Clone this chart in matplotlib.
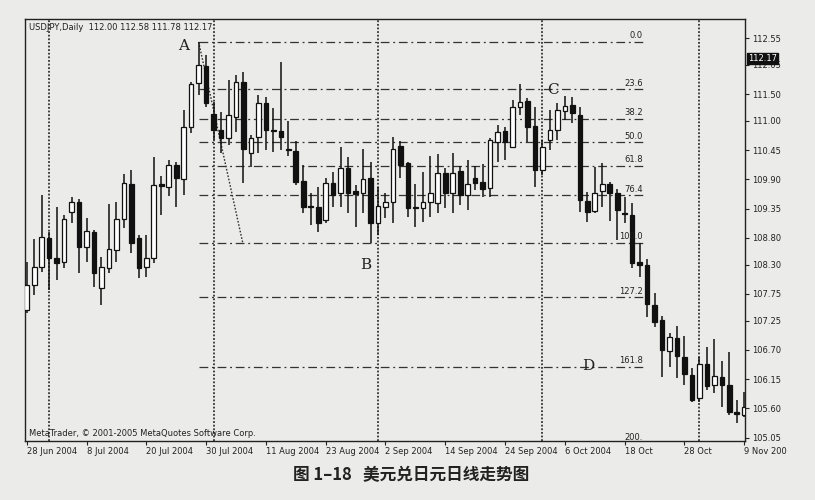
import numpy as np
import matplotlib
matplotlib.use("Agg")
import matplotlib.pyplot as plt

# ---------------------------------------------------------------------------
# Data: USDJPY daily candles, 28 Jun 2004 - 9 Nov 2004
# ---------------------------------------------------------------------------
opens = [107.45, 107.92, 108.26, 108.80, 108.43, 108.35, 109.29, 109.48, 108.63, 108.91,
         107.86, 108.24, 108.58, 109.16, 109.81, 108.80, 108.26, 108.43, 109.81, 109.76,
         110.17, 109.91, 110.88, 111.71, 112.03, 111.13, 110.83, 110.68, 111.07, 111.73,
         110.39, 110.69, 111.33, 110.83, 110.81, 110.47, 110.43, 109.87, 109.40, 109.38,
         109.14, 109.83, 109.64, 110.11, 109.68, 109.64, 109.93, 109.08, 109.38, 109.48,
         110.52, 110.21, 109.38, 109.36, 109.48, 109.46, 110.02, 109.64, 110.06, 109.61,
         109.93, 109.85, 109.74, 110.60, 110.81, 110.51, 111.26, 111.37, 110.90, 110.08,
         110.64, 110.83, 111.18, 111.29, 111.11, 109.49, 109.31, 109.68, 109.81, 109.64,
         109.27, 109.23, 108.35, 108.29, 107.54, 107.26, 106.68, 106.92, 106.57, 106.23,
         105.80, 106.44, 106.04, 106.19, 106.04, 105.52, 105.48]
highs = [108.35, 108.78, 109.61, 108.91, 109.38, 109.23, 109.57, 109.53, 109.18, 108.95,
         108.44, 109.44, 109.48, 110.00, 110.08, 108.86, 108.86, 110.32, 109.96, 110.26,
         110.23, 111.20, 111.73, 112.48, 112.23, 111.35, 111.16, 111.76, 111.86, 111.91,
         110.73, 111.48, 111.44, 111.24, 112.10, 110.99, 110.62, 110.17, 109.64, 109.76,
         109.93, 110.04, 110.51, 110.32, 109.79, 110.47, 110.23, 109.76, 109.64, 110.69,
         110.62, 110.23, 109.81, 110.04, 110.34, 110.37, 110.11, 110.39, 110.15, 110.26,
         110.15, 110.19, 110.68, 110.92, 110.88, 111.39, 111.69, 111.43, 111.26, 110.64,
         111.20, 111.33, 111.46, 111.44, 111.26, 109.66, 110.13, 110.21, 109.85, 109.72,
         109.57, 109.46, 108.71, 108.41, 107.77, 107.34, 107.02, 107.15, 106.96, 106.36,
         106.57, 106.76, 106.91, 106.49, 106.66, 105.76, 105.91]
lows = [107.39, 107.73, 108.16, 107.83, 108.01, 108.24, 109.08, 108.14, 108.35, 107.88,
        107.54, 108.14, 108.35, 108.99, 108.52, 108.05, 108.07, 108.33, 109.23, 109.59,
        109.38, 109.61, 110.77, 111.48, 111.26, 110.64, 110.39, 110.54, 110.79, 109.83,
        110.13, 110.39, 110.45, 110.41, 110.45, 110.34, 109.79, 109.27, 109.04, 108.91,
        109.08, 109.38, 109.38, 109.27, 109.01, 109.27, 108.71, 108.86, 109.18, 109.08,
        109.93, 109.19, 109.01, 109.10, 109.19, 109.27, 109.36, 109.27, 109.42, 109.33,
        109.70, 109.57, 109.57, 110.23, 110.26, 110.49, 111.11, 110.60, 109.76, 109.98,
        110.45, 110.64, 111.01, 110.96, 109.29, 109.10, 109.27, 109.38, 109.12, 108.76,
        109.08, 108.24, 108.07, 107.32, 107.13, 106.19, 106.38, 106.18, 106.04, 105.72,
        105.72, 105.95, 105.89, 105.63, 105.48, 105.33, 105.44]
closes = [107.92, 108.26, 108.82, 108.43, 108.33, 109.16, 109.48, 108.63, 108.93, 108.14,
          108.26, 108.59, 109.16, 109.83, 108.71, 108.24, 108.43, 109.79, 109.78, 110.17,
          109.93, 110.88, 111.69, 112.04, 111.33, 110.83, 110.68, 111.11, 111.73, 110.47,
          110.68, 111.33, 110.83, 110.81, 110.69, 110.45, 109.85, 109.38, 109.38, 109.08,
          109.83, 109.61, 110.11, 109.64, 109.63, 109.91, 109.08, 109.40, 109.48, 110.47,
          110.17, 109.36, 109.36, 109.48, 109.64, 110.02, 109.64, 110.02, 109.61, 109.81,
          109.83, 109.72, 110.64, 110.79, 110.60, 111.26, 111.35, 110.88, 110.08, 110.51,
          110.83, 111.20, 111.28, 111.14, 109.51, 109.29, 109.64, 109.81, 109.64, 109.33,
          109.25, 108.33, 108.29, 107.56, 107.22, 106.70, 106.94, 106.59, 106.25, 105.76,
          106.44, 106.03, 106.21, 106.04, 105.54, 105.50, 105.63]

date_ticks = [0, 8, 16, 24, 32, 40, 48, 56, 64, 72, 80, 88, 96]
date_labels = ["28 Jun 2004", "8 Jul 2004", "20 Jul 2004", "30 Jul 2004", "11 Aug 2004",
               "23 Aug 2004", "2 Sep 2004", "14 Sep 2004", "24 Sep 2004", "6 Oct 2004",
               "18 Oct", "28 Oct", "9 Nov 200"]
month_starts = [3, 25, 47, 69, 90]

price_ticks = [112.55, 112.05, 111.50, 111.00, 110.45, 109.90, 109.35, 108.80,
               108.30, 107.75, 107.25, 106.70, 106.15, 105.60, 105.05]

fib_high = 112.48   # point A
fib_low = 108.71    # point B
fib_levels = [0.0, 23.6, 38.2, 50.0, 61.8, 76.4, 100.0, 127.2, 161.8, 200.0]
fib_labels = ["0.0", "23.6", "38.2", "50.0", "61.8", "76.4", "100.0", "127.2", "161.8", "200."]

points = {"A": (21.0, 112.40), "B": (45.3, 108.29), "C": (70.4, 111.57), "D": (75.1, 106.40)}

# ---------------------------------------------------------------------------
# Figure
# ---------------------------------------------------------------------------
BG = "#ebebe9"
plt.rcParams["font.family"] = ["DejaVu Sans"]
fig = plt.figure(figsize=(8.15, 5.0), dpi=100, facecolor=BG)
ax = fig.add_axes([25 / 815, 1 - 441 / 500, 720 / 815, 422 / 500], facecolor=BG)

n = len(opens)
x = np.arange(n)
o = np.array(opens); h = np.array(highs); l = np.array(lows); c = np.array(closes)
up = c >= o

# fib levels (dash-dot) and A->B trend line
x0, x1 = 23, 82.4
for lvl, lab in zip(fib_levels, fib_labels):
    p = fib_high - (fib_high - fib_low) * lvl / 100
    ax.plot([x0, x1], [p, p], color="#333333", lw=0.9,
            linestyle=(0, (7, 3, 1.5, 3)), zorder=1)
    ax.text(x1, p + 0.03, lab, ha="right", va="bottom", fontsize=6, color="#222222", zorder=4)
ax.plot([23, 28.9], [fib_high, fib_low], color="#333333", lw=1.0,
        linestyle=(0, (1.2, 1.2)), zorder=1)

# month separators
for m in month_starts:
    ax.axvline(m, color="#333333", lw=1.3, linestyle=(0, (1, 1)), zorder=1)

# candles
ax.vlines(x, l, h, color="#111111", lw=1.1, zorder=2)
body_lo = np.minimum(o, c)
body_h = np.maximum(np.abs(c - o), 0.025)
ax.bar(x[up], body_h[up], bottom=body_lo[up], width=0.62, color="white",
       edgecolor="#111111", linewidth=0.9, zorder=3)
ax.bar(x[~up], body_h[~up], bottom=body_lo[~up], width=0.62, color="#111111",
       edgecolor="#111111", linewidth=0.9, zorder=3)

for name, (px, py) in points.items():
    ax.text(px, py, name, fontsize=11, family="serif", color="#222222",
            ha="center", va="center", zorder=5)

ax.text(0.005, 0.99, "USDJPY,Daily  112.00 112.58 111.78 112.17", transform=ax.transAxes,
        ha="left", va="top", fontsize=6, color="#222222")
ax.text(0.005, 0.008, "MetaTrader, \u00a9 2001-2005 MetaQuotes Software Corp.",
        transform=ax.transAxes, ha="left", va="bottom", fontsize=6, color="#222222")

ax.set_xlim(-0.23, 96.1)
ax.set_ylim(104.99, 112.91)

ax.yaxis.tick_right()
ax.set_yticks(price_ticks)
ax.set_yticklabels([f"{v:.2f}" for v in price_ticks])
ax.tick_params(axis="y", length=3, width=0.8, labelsize=6, pad=2, colors="#222222")
ax.set_xticks(date_ticks)
ax.set_xticklabels(date_labels, ha="left")
ax.tick_params(axis="x", length=3, width=0.8, labelsize=6, pad=1, colors="#222222")
for s in ax.spines.values():
    s.set_color("#222222")
    s.set_linewidth(1.0)

# current price box
ax.text(1.004, 112.17, "112.17", transform=ax.get_yaxis_transform(), ha="left",
        va="center", fontsize=6, color="white", zorder=6,
        bbox=dict(boxstyle="square,pad=0.15", fc="#111111", ec="#111111"))

fig.text(0.505, 0.05, "图 1–18   美元兑日元日线走势图", ha="center", va="center",
         fontsize=12, fontweight="bold", color="#222222",
         family=["Noto Sans CJK SC", "DejaVu Sans"])

fig.savefig("out.png", dpi=100, facecolor=BG)
